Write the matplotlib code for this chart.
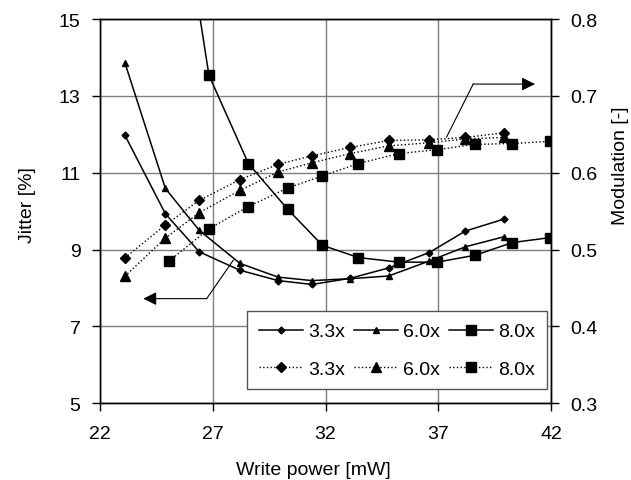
import matplotlib
matplotlib.use('Agg')
import matplotlib.pyplot as plt

plt.rcParams['font.family'] = ['Liberation Sans', 'DejaVu Sans']

# Jitter (left axis, solid lines)
x_33 = [23.1, 24.9, 26.4, 28.2, 29.9, 31.4, 33.1, 34.8, 36.6, 38.2, 39.9]
jit_33 = [11.98, 9.93, 8.94, 8.46, 8.19, 8.09, 8.25, 8.52, 8.92, 9.48, 9.79]
x_60 = [23.1, 24.9, 26.4, 28.2, 29.9, 31.4, 33.1, 34.8, 36.6, 38.2, 39.9]
jit_60 = [13.87, 10.59, 9.50, 8.64, 8.28, 8.19, 8.24, 8.31, 8.70, 9.07, 9.33]
x_80 = [25.07, 26.83, 28.58, 30.32, 31.86, 33.46, 35.26, 36.94, 38.63, 40.28, 41.96]
jit_80 = [20.2, 13.54, 11.24, 10.05, 9.11, 8.79, 8.67, 8.67, 8.85, 9.18, 9.31]

# Modulation (right axis, dotted lines)
mod_33 = [0.489, 0.532, 0.564, 0.591, 0.611, 0.622, 0.633, 0.642, 0.643, 0.646, 0.652]
mod_60 = [0.465, 0.515, 0.548, 0.577, 0.601, 0.613, 0.625, 0.635, 0.639, 0.644, 0.646]
mod_80 = [0.485, 0.527, 0.556, 0.580, 0.596, 0.612, 0.625, 0.630, 0.637, 0.638, 0.641]

labels = ['3.3x', '6.0x', '8.0x']

# arrow callouts (left-axis data coords): start, corner, tip
arrow_left = [(27.91, 8.72), (26.73, 7.72), (23.92, 7.72)]
arrow_right = [(37.37, 11.93), (38.55, 13.31), (41.29, 13.31)]

fig = plt.figure(figsize=(6.31, 4.81), dpi=100)
ax = fig.add_axes([0.1585, 0.160, 0.7147, 0.798])
ax2 = ax.twinx()

lw = 1.1
h1, = ax.plot(x_33, jit_33, '-', color='black', lw=lw, marker='D', ms=3.5)
h2, = ax.plot(x_60, jit_60, '-', color='black', lw=lw, marker='^', ms=5)
h3, = ax.plot(x_80, jit_80, '-', color='black', lw=lw, marker='s', ms=6.5)

d1, = ax2.plot(x_33, mod_33, ':', color='black', lw=1.0, marker='D', ms=5.5)
d2, = ax2.plot(x_60, mod_60, ':', color='black', lw=1.0, marker='^', ms=6.5)
d3, = ax2.plot(x_80, mod_80, ':', color='black', lw=1.0, marker='s', ms=6.5)

for p0, p1, p2 in [arrow_left, arrow_right]:
    ax.plot([p0[0], p1[0]], [p0[1], p1[1]], '-', color='black', lw=0.8)
    ax.annotate('', xy=p2, xytext=p1,
                arrowprops=dict(arrowstyle='-|>', color='black', lw=0.8,
                                mutation_scale=20, shrinkA=0, shrinkB=0))

ax.set_xlim(22, 42)
ax.set_ylim(5, 15)
ax2.set_ylim(0.3, 0.8)
ax.set_xticks([22, 27, 32, 37, 42])
ax.set_yticks([5, 7, 9, 11, 13, 15])
ax2.set_yticks([0.3, 0.4, 0.5, 0.6, 0.7, 0.8])
ax2.set_yticklabels(['0.3', '0.4', '0.5', '0.6', '0.7', '0.8'])

ax.grid(True, color='#7f7f7f', lw=1.0)
ax.set_axisbelow(True)
ax.tick_params(labelsize=14, direction='out', length=6, width=1)
ax.tick_params(axis='x', pad=10)
ax.tick_params(axis='y', pad=8)
ax2.tick_params(labelsize=14, direction='out', length=6, width=1, pad=8)
for a in (ax, ax2):
    for s in a.spines.values():
        s.set_linewidth(1.0)

ax.set_xlabel('Write power [mW]', fontsize=14)
ax.set_ylabel('Jitter [%]', fontsize=14)
ax2.set_ylabel('Modulation [-]', fontsize=14)
ax.xaxis.set_label_coords(0.474, -0.152)
ax.yaxis.set_label_coords(-0.142, 0.518)
ax2.yaxis.set_label_coords(1.135, 0.62)

leg = ax2.legend([h1, d1, h2, d2, h3, d3],
                 labels[:1] * 2 + labels[1:2] * 2 + labels[2:] * 2,
                 ncol=3, loc='lower left', mode='expand',
                 bbox_to_anchor=(0.326, 0.036, 0.665, 0.232), borderaxespad=0,
                 fontsize=14, handlelength=2.27, handletextpad=0.26,
                 columnspacing=0.8, labelspacing=1.0, borderpad=0.6,
                 fancybox=False, framealpha=1, edgecolor='#555555')
leg.get_frame().set_linewidth(1.0)

fig.savefig('out.png', dpi=100)
